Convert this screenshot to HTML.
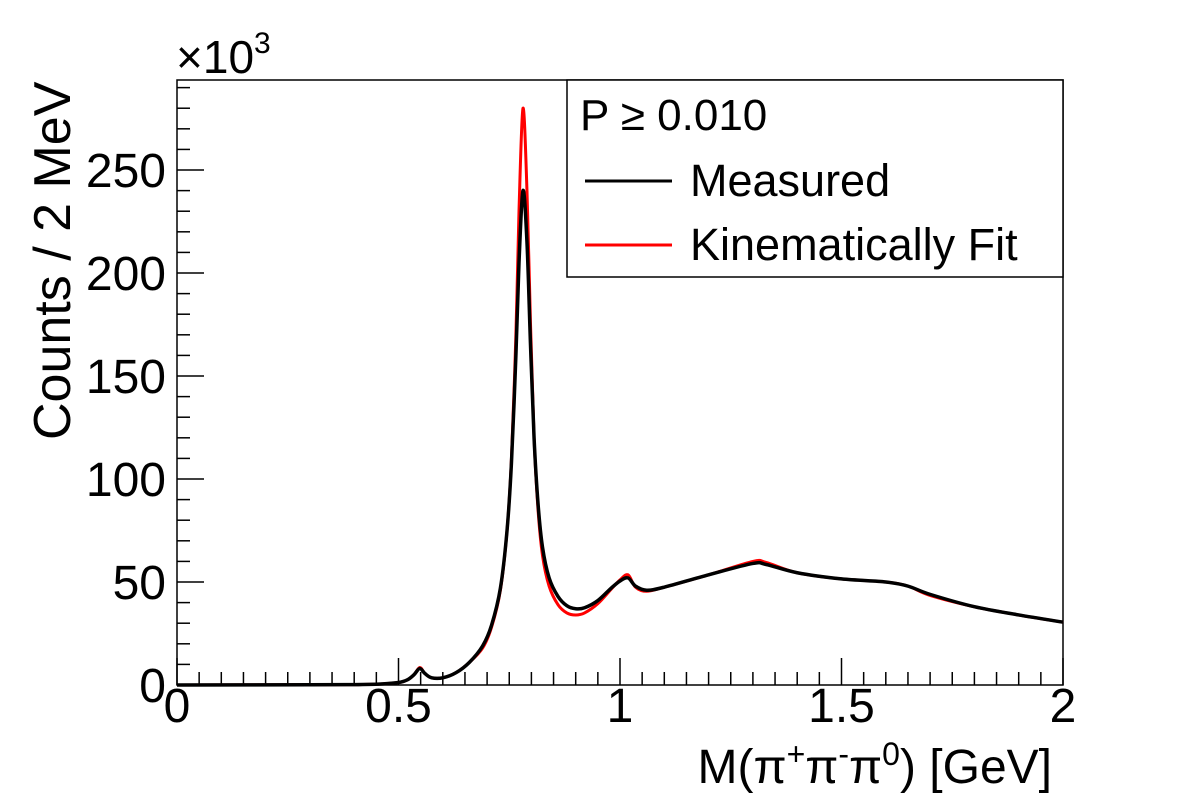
<!DOCTYPE html>
<html><head><meta charset="utf-8"><style>
body{margin:0;background:#fff;}
svg text{font-family:"Liberation Sans",sans-serif;fill:#000;}
</style></head><body>
<svg id="c" width="1182" height="805" xmlns="http://www.w3.org/2000/svg">
<rect width="1182" height="805" fill="#fff"/>
<g id="axes"></g>
<g id="curves"></g>
<g>
<rect x="567" y="80" width="496" height="197" fill="#fff" stroke="#000" stroke-width="1.5"/>
<text x="580" y="130" font-size="44">P ≥ 0.010</text>
<line x1="585" y1="181" x2="672" y2="181" stroke="#000" stroke-width="3"/>
<text x="690" y="196" font-size="45">Measured</text>
<line x1="585" y1="245" x2="672" y2="245" stroke="#f00" stroke-width="3"/>
<text x="690" y="260" font-size="45">Kinematically Fit</text>
</g>
<text x="176" y="73" font-size="46">×10<tspan font-size="30" dy="-20">3</tspan></text>
<text transform="translate(70,440) rotate(-90)" font-size="52">Counts / 2 MeV</text>
<text x="1052" y="783" font-size="48" text-anchor="end">M(π<tspan font-size="32" dy="-18">+</tspan><tspan dy="18">π</tspan><tspan font-size="32" dy="-18">-</tspan><tspan dy="18">π</tspan><tspan font-size="32" dy="-18">0</tspan><tspan dy="18">) [GeV]</tspan></text>
</svg>
<script>
const xTicks=[0,0.5,1,1.5,2];
const xTickLabels=["0","0.5","1","1.5","2"];
const yTicks=[0,50,100,150,200,250];
const yTickLabels=["0","50","100","150","200","250"];
const massX=[0,0.3,0.4,0.46,0.5,0.52,0.535,0.548,0.56,0.575,0.6,0.63,0.66,0.69,0.71,0.73,0.745,0.755,0.765,0.772,0.781,0.79,0.798,0.806,0.815,0.825,0.84,0.86,0.88,0.9,0.92,0.95,0.98,1.0,1.018,1.035,1.06,1.1,1.2,1.3,1.33,1.4,1.5,1.6,1.65,1.7,1.8,1.9,2.0];
const measured=[0,0.1,0.2,0.5,1.2,2.5,5,8,5.5,3.5,3.5,6,11,19,29,47,75,108,160,205,240,215,165,120,88,67,52,43,38.5,37,37.5,41,47,50.5,52,48,46,47.5,53.5,59,58.5,54.5,51.5,50,48,44,38,34,30.5];
const fitted=[0,0.1,0.2,0.5,1.2,2.5,5,8.5,5.5,3.5,3.5,6,11,18,28,46,75,110,170,230,280,240,175,120,85,63,48,39,35,34,35,39.5,46.5,51,53.5,47.5,45.5,47.5,53.5,60,59.5,54.5,51.5,50,48,43.5,38,34,30.5];
const ns="http://www.w3.org/2000/svg";
const X0=177,X1=1063,Y0=685,Y1=80,YMAX=293.7;
const sx=v=>X0+(v/2)*(X1-X0);
const sy=v=>Y0-(v/YMAX)*(Y0-Y1);
function mk(tag,attrs,parent){const e=document.createElementNS(ns,tag);for(const k in attrs)e.setAttribute(k,attrs[k]);parent.appendChild(e);return e;}
const ax=document.getElementById('axes');
const frame=mk('rect',{x:X0,y:Y1,width:X1-X0,height:Y0-Y1,fill:'none',stroke:'#000','stroke-width':1.5},ax);


for(let i=0;i<=40;i++){const v=i*0.05;const L=(i%10===0)?27:13;
 const t=mk('line',{x1:sx(v),x2:sx(v),y1:Y0,y2:Y0-L,stroke:'#000','stroke-width':1.5},ax);
 
 }
for(let v=0;v<=290;v+=10){const L=(v%50===0)?27:13;
 const t=mk('line',{x1:X0,x2:X0+L,y1:sy(v),y2:sy(v),stroke:'#000','stroke-width':1.5},ax);
 
 }
xTicks.forEach((v,i)=>{const t=mk('text',{x:sx(v),y:722,'font-size':48,'text-anchor':'middle'},ax);t.textContent=xTickLabels[i];
 
 });
yTicks.forEach((v,i)=>{const t=mk('text',{x:166,y:sy(v)+17,'font-size':48,'text-anchor':'end'},ax);t.textContent=yTickLabels[i];
 
 });
function path(xs,ys){const p=xs.map((x,i)=>[sx(x),sy(ys[i])]);let d='M'+p[0][0]+','+p[0][1];
 for(let i=0;i<p.length-1;i++){const a=p[Math.max(i-1,0)],b=p[i],c=p[i+1],e=p[Math.min(i+2,p.length-1)];
  const c1=[b[0]+(c[0]-a[0])/6,b[1]+(c[1]-a[1])/6],c2=[c[0]-(e[0]-b[0])/6,c[1]-(e[1]-b[1])/6];
  d+=' C'+c1+' '+c2+' '+c;}return d;}
const cv=document.getElementById('curves');
const r=mk('path',{d:path(massX,fitted),fill:'none',stroke:'#f00','stroke-width':3},cv);


const b=mk('path',{d:path(massX,measured),fill:'none',stroke:'#000','stroke-width':3.5},cv);


</script>
</body></html>
